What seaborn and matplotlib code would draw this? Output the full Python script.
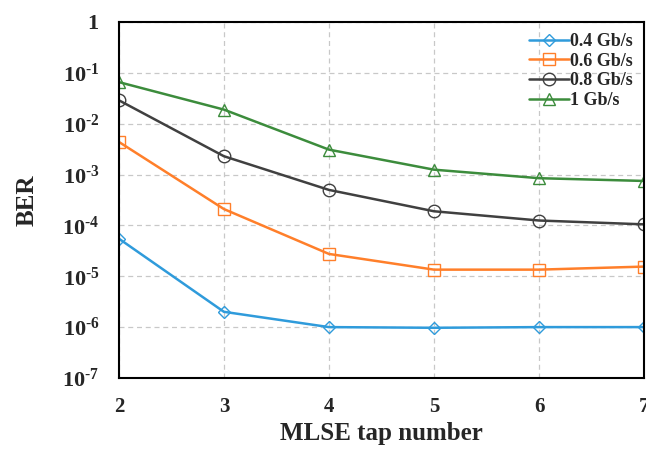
import numpy as np
import pandas as pd
import matplotlib
matplotlib.use("Agg")
import matplotlib.pyplot as plt
import seaborn as sns
from matplotlib.ticker import FixedLocator, FixedFormatter, NullLocator

taps = [2, 3, 4, 5, 6, 7]
ber_04 = [5.5e-5, 2.0e-6, 1.0e-6, 0.97e-6, 1.0e-6, 1.0e-6]
ber_06 = [4.4e-3, 2.1e-4, 2.75e-5, 1.35e-5, 1.35e-5, 1.55e-5]
ber_08 = [2.9e-2, 2.3e-3, 5.0e-4, 1.9e-4, 1.25e-4, 1.05e-4]
ber_10 = [6.6e-2, 1.9e-2, 3.1e-3, 1.25e-3, 8.5e-4, 7.5e-4]
labels = ["0.4 Gb/s", "0.6 Gb/s", "0.8 Gb/s", "1 Gb/s"]
colors = ["#2F9BDB", "#FF7F2A", "#404040", "#3C8C3C"]
markers = ["D", "s", "o", "^"]
msizes = [6, 8, 9, 9]
ytick_vals = [1, 1e-1, 1e-2, 1e-3, 1e-4, 1e-5, 1e-6, 1e-7]
ytick_labels = [r"$\mathrm{1}$"] + [r"$\mathrm{10}^{\text{-%d}}$" % k for k in range(1, 8)]

sns.set_theme(style="white")
plt.rcParams["font.family"] = ["Liberation Serif", "DejaVu Serif"]
plt.rcParams["mathtext.fontset"] = "custom"
plt.rcParams["mathtext.rm"] = "Liberation Serif:bold"
plt.rcParams["mathtext.bf"] = "Liberation Serif:bold"
plt.rcParams["mathtext.it"] = "Liberation Serif:italic:bold"

fig = plt.figure(figsize=(6.46, 4.51), dpi=100)
ax = fig.add_axes([0.184, 0.162, 0.813, 0.789])

series = [ber_04, ber_06, ber_08, ber_10]
for vals, lab, c, m, ms in zip(series, labels, colors, markers, msizes):
    df = pd.DataFrame({"tap": taps, "ber": vals})
    sns.lineplot(data=df, x="tap", y="ber", ax=ax, color=c, marker=m,
                 markersize=ms, mfc="none", mec=c, mew=1.0, lw=1.8,
                 label=lab)

ax.set_yscale("log")
ax.set_ylim(1e-7, 1)
ax.set_xlim(2, 7)
ax.yaxis.set_major_locator(FixedLocator(ytick_vals))
ax.yaxis.set_major_formatter(FixedFormatter(ytick_labels))
ax.yaxis.set_minor_locator(NullLocator())
ax.set_xticks(taps)
ax.set_xticklabels([str(t) for t in taps], fontweight="bold")
ax.tick_params(axis="y", length=0, pad=14, labelsize=16)
ax.tick_params(axis="x", length=0, pad=14, labelsize=15)

ax.grid(True, which="major", color="#c8c8c8", linestyle=(0, (4, 3)), lw=0.9)
for sp in ax.spines.values():
    sp.set_color("black")
    sp.set_linewidth(1.5)

ax.set_xlabel("MLSE tap number", fontsize=18, fontweight="bold", labelpad=3)
ax.set_ylabel("BER", fontsize=18, fontweight="bold", labelpad=17)

leg = ax.legend(loc="upper right", frameon=False,
                handlelength=2.2, handletextpad=0.1, labelspacing=0.15,
                borderaxespad=0.2, prop={"weight": "bold", "size": 13})
for line in ax.lines:
    line.set_markerfacecolor("none")

fig.savefig("out.png", dpi=100)
